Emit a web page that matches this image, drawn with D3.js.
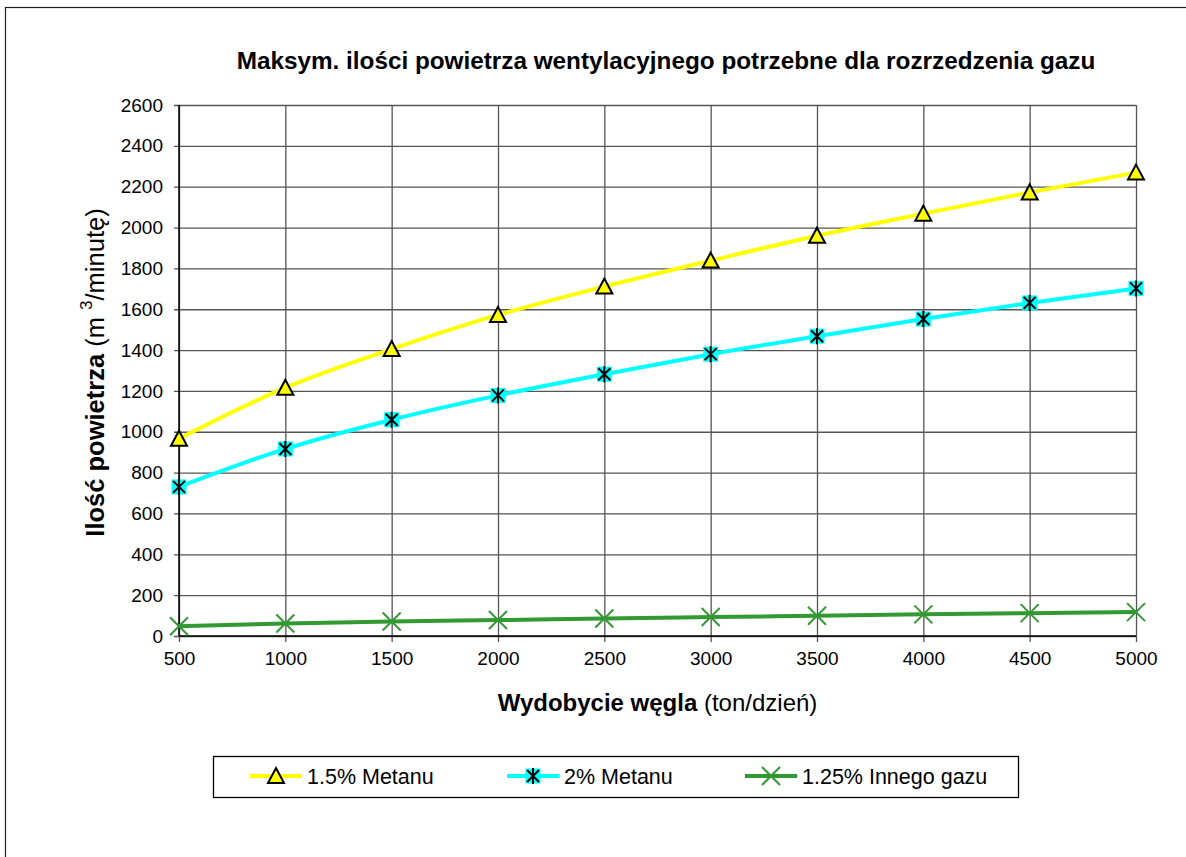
<!DOCTYPE html>
<meta charset="utf-8">
<style>
body { margin: 0; background: #fff; }
svg { display: block; font-family: "Liberation Sans", Arial, sans-serif; }
</style>
<body>
<svg id="chart" width="1186" height="857"></svg>
<script src="https://cdn.jsdelivr.net/npm/d3@7"></script>
<script>

// data
var wydobycie = [500, 1000, 1500, 2000, 2500, 3000, 3500, 4000, 4500, 5000];
var metan15 = [966, 1216, 1405, 1572, 1711, 1838, 1960, 2068, 2172, 2269];
var metan2 = [730, 916, 1059, 1178, 1282, 1380, 1468, 1552, 1631, 1702];
var innyGaz = [48, 61, 71, 78, 86, 93, 99, 106, 112, 117];
var yTicks = [0, 200, 400, 600, 800, 1000, 1200, 1400, 1600, 1800, 2000, 2200, 2400, 2600];
var seriesNames = ["1.5% Metanu", "2% Metanu", "1.25% Innego gazu"];

var series = [
  { name: seriesNames[0], values: metan15, color: "#ffff00", marker: "triangle" },
  { name: seriesNames[1], values: metan2, color: "#00ffff", marker: "star" },
  { name: seriesNames[2], values: innyGaz, color: "#339933", marker: "x" }
];

var svg = d3.select("#chart");

var pLeft = 179, pRight = 1136, pTop = 105, pBottom = 636;

var x = d3.scaleLinear().domain([500, 5000]).range([pLeft, pRight]);
var y = d3.scaleLinear().domain([0, 2600]).range([pBottom, pTop]);

// outer frame (cut off at the right and bottom in the original)
svg.append("rect")
  .attr("x", 5.5).attr("y", 7.5)
  .attr("width", 1300).attr("height", 1000)
  .attr("fill", "none").attr("stroke", "#222").attr("stroke-width", 1.2);

svg.append("text")
  .attr("x", 666).attr("y", 69)
  .attr("text-anchor", "middle")
  .attr("font-weight", "bold").attr("font-size", 24.3)
  .text("Maksym. ilości powietrza wentylacyjnego potrzebne dla rozrzedzenia gazu");

// horizontal grid + y axis
var yAxis = d3.axisLeft(y).tickValues(yTicks).tickFormat(d3.format("d"))
  .tickSize(pRight - pLeft + 5).tickPadding(11);
var gy = svg.append("g")
  .attr("transform", "translate(" + pRight + ",0)")
  .call(yAxis);
gy.select(".domain").remove();
gy.selectAll(".tick line").attr("stroke", "#555").attr("stroke-width", 1.3);
gy.selectAll(".tick text")
  .attr("x", -(pRight - pLeft) - 16)
  .attr("font-size", 19).attr("fill", "#000")
  .attr("font-family", "Liberation Sans, Arial, sans-serif");

// vertical grid + x axis
var xAxis = d3.axisBottom(x).tickValues(wydobycie).tickFormat(d3.format("d"))
  .tickSize(pBottom - pTop + 6).tickPadding(10);
var gx = svg.append("g")
  .attr("transform", "translate(0," + pTop + ")")
  .call(xAxis);
gx.select(".domain").remove();
gx.selectAll(".tick line").attr("stroke", "#555").attr("stroke-width", 1.3);
gx.selectAll(".tick text")
  .attr("font-size", 19).attr("fill", "#000")
  .attr("font-family", "Liberation Sans, Arial, sans-serif");

// axis lines
svg.append("line")
  .attr("x1", pLeft).attr("x2", pLeft).attr("y1", pTop).attr("y2", pBottom)
  .attr("stroke", "#000").attr("stroke-width", 1.5);
svg.append("line")
  .attr("x1", pLeft).attr("x2", pRight).attr("y1", pBottom).attr("y2", pBottom)
  .attr("stroke", "#000").attr("stroke-width", 1.5);

// axis titles
var xt = svg.append("text")
  .attr("x", (pLeft + pRight) / 2).attr("y", 711)
  .attr("text-anchor", "middle").attr("font-size", 24);
xt.append("tspan").attr("font-weight", "bold").text("Wydobycie węgla ");
xt.append("tspan").text("(ton/dzień)");

var yt = svg.append("text")
  .attr("transform", "translate(104," + ((pTop + pBottom) / 2 + 2) + ") rotate(-90)")
  .attr("text-anchor", "middle").attr("font-size", 25.5);
yt.append("tspan").attr("font-weight", "bold").text("Ilość powietrza ");
yt.append("tspan").text("(m ");
yt.append("tspan").attr("font-size", 17).attr("dy", -12).text("3");
yt.append("tspan").attr("dy", 12).text("/minutę)");

function drawMarker(g, type, color) {
  if (type === "triangle") {
    g.append("path")
      .attr("d", "M0,-8 L8,7 L-8,7 Z")
      .attr("fill", color).attr("stroke", "#000").attr("stroke-width", 2)
      .attr("stroke-linejoin", "miter");
  } else if (type === "star") {
    g.append("rect")
      .attr("x", -7.5).attr("y", -7.5).attr("width", 15).attr("height", 15)
      .attr("fill", color);
    g.append("path")
      .attr("d", "M-6,-6 L6,6 M6,-6 L-6,6 M0,-8 L0,8")
      .attr("stroke", "#000").attr("stroke-width", 2);
  } else {
    g.append("path")
      .attr("d", "M-9,-9 L9,9 M9,-9 L-9,9")
      .attr("stroke", color).attr("stroke-width", 2);
  }
}

var line = d3.line()
  .x(function(d, i) { return x(wydobycie[i]); })
  .y(function(d) { return y(d); })
  .curve(d3.curveMonotoneX);

series.forEach(function(s) {
  svg.append("path")
    .datum(s.values)
    .attr("d", line)
    .attr("fill", "none")
    .attr("stroke", s.color)
    .attr("stroke-width", 4);
});

series.forEach(function(s) {
  svg.append("g").selectAll("g")
    .data(s.values)
    .enter().append("g")
    .attr("transform", function(d, i) { return "translate(" + x(wydobycie[i]) + "," + y(d) + ")"; })
    .each(function() { drawMarker(d3.select(this), s.marker, s.color); });
});

// legend
svg.append("rect")
  .attr("x", 213.5).attr("y", 756.5).attr("width", 805).attr("height", 41)
  .attr("fill", "#fff").attr("stroke", "#000").attr("stroke-width", 1.3);

var legendX = [250, 507, 745];
series.forEach(function(s, i) {
  var g = svg.append("g").attr("transform", "translate(" + legendX[i] + ",776)");
  g.append("line")
    .attr("x1", 0).attr("x2", 52).attr("y1", 0).attr("y2", 0)
    .attr("stroke", s.color).attr("stroke-width", 4);
  drawMarker(g.append("g").attr("transform", "translate(26,0)"), s.marker, s.color);
  g.append("text")
    .attr("x", 57).attr("y", 7.5)
    .attr("font-size", 21.5)
    .text(s.name);
});

</script>
</body>
